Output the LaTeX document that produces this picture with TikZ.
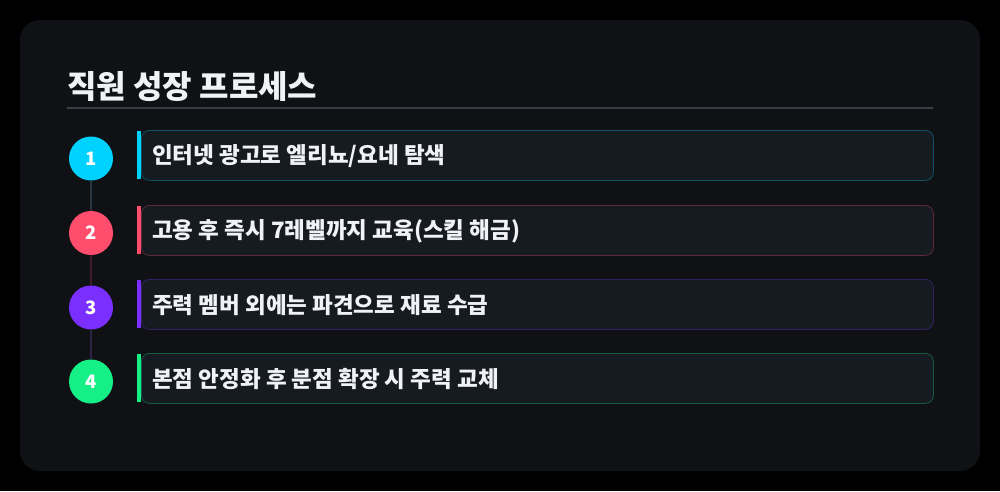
\documentclass[tikz,border=0pt]{standalone}
\usepackage{fontspec}
\setmainfont{Noto Sans CJK KR}
\usetikzlibrary{positioning}
\definecolor{bgblack}{HTML}{000000}
\definecolor{panel}{HTML}{0F1115}
\definecolor{boxfill}{HTML}{161B22}
\definecolor{rulec}{HTML}{3A3E44}
\definecolor{cA}{HTML}{00D2FF}
\definecolor{cB}{HTML}{FF4D6D}
\definecolor{cC}{HTML}{7B2FFF}
\definecolor{cD}{HTML}{14F085}
\definecolor{lA}{HTML}{2A3542}
\definecolor{lB}{HTML}{3E1C27}
\definecolor{lC}{HTML}{2B2442}
\definecolor{txt}{HTML}{F0F2F5}
\tikzset{
  num/.style={circle, minimum size=44pt, inner sep=0pt, text=white, font=\fontsize{18.5pt}{18.5pt}\selectfont\bfseries},
  stepbox/.style={rounded corners=8pt, minimum width=792pt, minimum height=50pt, fill=boxfill, line width=0.8pt, anchor=north west, inner sep=0pt},
  steptext/.style={anchor=west, text=txt, font=\fontsize{22.5pt}{22.5pt}\selectfont\bfseries, inner sep=0pt},
  link/.style={line width=2pt},
}
\begin{document}
\begin{tikzpicture}[x=1pt,y=-1pt]
\fill[bgblack] (0,0) rectangle (1000,491);
\useasboundingbox (0,0) rectangle (1000,491);
\fill[panel, rounded corners=20pt] (20,20) rectangle (980,471);
\node[anchor=base west, inner sep=0pt, text=txt, font=\fontsize{32pt}{32pt}\selectfont\bfseries] (title) at (67,98) {직원 성장 프로세스};
\draw[rulec, line width=1.6pt] (67,108) coordinate (r1) -- (933,108) coordinate (r2);
% boxes
\node[stepbox, draw=cA!30!boxfill] (b1) at (141,130) {};
\node[stepbox, draw=cB!30!boxfill] (b2) at (141,205) {};
\node[stepbox, draw=cC!30!boxfill] (b3) at (141,279) {};
\node[stepbox, draw=cD!30!boxfill] (b4) at (141,353) {};
\fill[cA] (137,131) rectangle (140.5,179);
\fill[cB] (137,206) rectangle (140.5,254);
\fill[cC] (137,280) rectangle (140.5,328);
\fill[cD] (137,354) rectangle (140.5,402);
\node[steptext] (t1) at (152,156) {인터넷 광고로 엘리뇨/요네 탐색};
\node[steptext] (t2) at (152,231) {고용 후 즉시 7레벨까지 교육(스킬 해금)};
\node[steptext] (t3) at (152,305) {주력 멤버 외에는 파견으로 재료 수급};
\node[steptext] (t4) at (152,379) {본점 안정화 후 분점 확장 시 주력 교체};
% circles
\node[num, fill=cA] (n1) at (91,158.5) {1};
\node[num, fill=cB] (n2) at (91,233) {2};
\node[num, fill=cC] (n3) at (91,307.5) {3};
\node[num, fill=cD] (n4) at (91,381.5) {4};
\draw[link, lA] (n1) -- (n2);
\draw[link, lB] (n2) -- (n3);
\draw[link, lC] (n3) -- (n4);
\end{tikzpicture}
\end{document}
